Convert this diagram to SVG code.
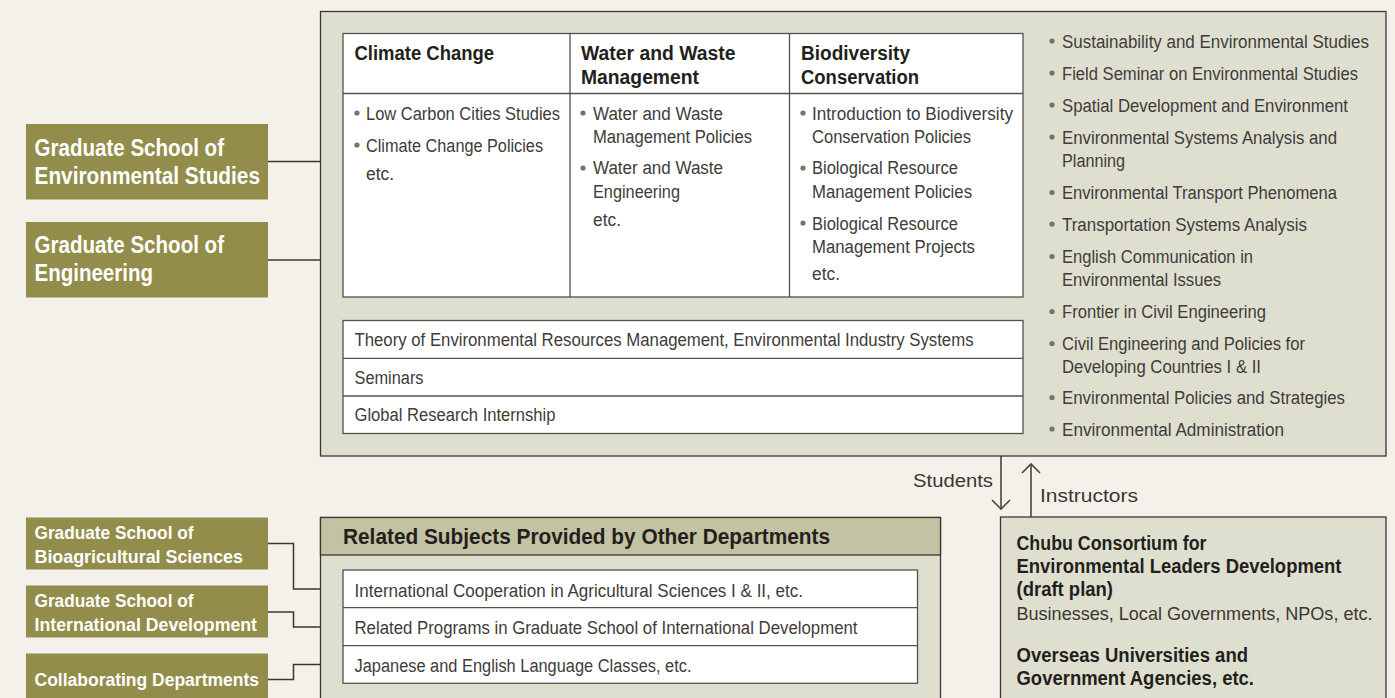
<svg xmlns="http://www.w3.org/2000/svg" width="1395" height="698" viewBox="0 0 1395 698">
<defs>
<style>
.bg{fill:#f4f1ea}
.panel{fill:#dfdfd0;stroke:#3b3632;stroke-width:1.3}
.band{fill:#c3c2a2;stroke:#3b3632;stroke-width:1.3}
.cell{fill:#ffffff;stroke:#55514d;stroke-width:1.3}
.grid{stroke:#55514d;stroke-width:1.3;fill:none}
.olive{fill:#938d4b}
.conn{stroke:#3b3632;stroke-width:1.5;fill:none}
.arr{stroke:#4a4541;stroke-width:1.6;fill:none}
.hd{font-family:"Liberation Sans",Arial,sans-serif;font-weight:bold;font-size:19.5px;fill:#231f1c}
.tx{font-family:"Liberation Sans",Arial,sans-serif;font-size:18px;fill:#403c39}
.wl{font-family:"Liberation Sans",Arial,sans-serif;font-weight:bold;font-size:23px;fill:#ffffff}
.ws{font-family:"Liberation Sans",Arial,sans-serif;font-weight:bold;font-size:18.5px;fill:#ffffff}
.ttl{font-family:"Liberation Sans",Arial,sans-serif;font-weight:bold;font-size:22px;fill:#231f1c}
.lbl{font-family:"Liberation Sans",Arial,sans-serif;font-size:18.5px;fill:#3a3633}
.bul{fill:#76736f}
</style>
</defs>
<rect class="bg" x="0" y="0" width="1395" height="698"/>

<g id="connectors">
<line class="conn" x1="268" y1="161.5" x2="320" y2="161.5"/>
<line class="conn" x1="268" y1="260" x2="320" y2="260"/>
<polyline class="conn" points="268,543.5 293.5,543.5 293.5,589 343,589"/>
<polyline class="conn" points="268,612 293.5,612 293.5,627 343,627"/>
<polyline class="conn" points="268,679.5 293.5,679.5 293.5,664.5 343,664.5"/>
<line class="arr" x1="1001" y1="456" x2="1001" y2="509"/>
<polyline class="arr" points="992,500 1001,509 1010,500"/>
<line class="arr" x1="1031" y1="517" x2="1031" y2="464"/>
<polyline class="arr" points="1022,473 1031,464 1040,473"/>
<text class="lbl" x="913" y="486.5" textLength="80" lengthAdjust="spacingAndGlyphs">Students</text>
<text class="lbl" x="1040" y="501.5" textLength="98" lengthAdjust="spacingAndGlyphs">Instructors</text>
</g>

<g id="main-program">
<rect class="panel" x="320.5" y="11.5" width="1065.5" height="444.5"/>
<g id="fields-table">
<rect class="cell" x="343" y="33.5" width="680" height="263.5"/>
<line class="grid" x1="343" y1="93.5" x2="1023" y2="93.5"/>
<line class="grid" x1="570" y1="33.5" x2="570" y2="297"/>
<line class="grid" x1="789.5" y1="33.5" x2="789.5" y2="297"/>
<text class="hd" x="354.5" y="60" textLength="139.5" lengthAdjust="spacingAndGlyphs">Climate Change</text>
<text class="hd" x="581" y="60" textLength="154.5" lengthAdjust="spacingAndGlyphs">Water and Waste</text>
<text class="hd" x="581" y="84" textLength="118" lengthAdjust="spacingAndGlyphs">Management</text>
<text class="hd" x="801" y="60" textLength="109" lengthAdjust="spacingAndGlyphs">Biodiversity</text>
<text class="hd" x="801" y="84" textLength="118" lengthAdjust="spacingAndGlyphs">Conservation</text>

<circle class="bul" cx="357" cy="113" r="2.6"/>
<text class="tx" x="366" y="119.5" textLength="194" lengthAdjust="spacingAndGlyphs">Low Carbon Cities Studies</text>
<circle class="bul" cx="357" cy="145" r="2.6"/>
<text class="tx" x="366" y="151.5" textLength="177" lengthAdjust="spacingAndGlyphs">Climate Change Policies</text>
<text class="tx" x="366" y="180" textLength="28" lengthAdjust="spacingAndGlyphs">etc.</text>

<circle class="bul" cx="583" cy="113" r="2.6"/>
<text class="tx" x="593" y="119.5" textLength="130" lengthAdjust="spacingAndGlyphs">Water and Waste</text>
<text class="tx" x="593" y="142.5" textLength="159" lengthAdjust="spacingAndGlyphs">Management Policies</text>
<circle class="bul" cx="583" cy="168" r="2.6"/>
<text class="tx" x="593" y="174" textLength="130" lengthAdjust="spacingAndGlyphs">Water and Waste</text>
<text class="tx" x="593" y="197.5" textLength="87" lengthAdjust="spacingAndGlyphs">Engineering</text>
<text class="tx" x="593" y="226" textLength="28" lengthAdjust="spacingAndGlyphs">etc.</text>

<circle class="bul" cx="803" cy="113" r="2.6"/>
<text class="tx" x="812" y="119.5" textLength="201" lengthAdjust="spacingAndGlyphs">Introduction to Biodiversity</text>
<text class="tx" x="812" y="142.5" textLength="159" lengthAdjust="spacingAndGlyphs">Conservation Policies</text>
<circle class="bul" cx="803" cy="168" r="2.6"/>
<text class="tx" x="812" y="174" textLength="146" lengthAdjust="spacingAndGlyphs">Biological Resource</text>
<text class="tx" x="812" y="197.5" textLength="160" lengthAdjust="spacingAndGlyphs">Management Policies</text>
<circle class="bul" cx="803" cy="223" r="2.6"/>
<text class="tx" x="812" y="229.5" textLength="146" lengthAdjust="spacingAndGlyphs">Biological Resource</text>
<text class="tx" x="812" y="252.5" textLength="163" lengthAdjust="spacingAndGlyphs">Management Projects</text>
<text class="tx" x="812" y="280" textLength="28" lengthAdjust="spacingAndGlyphs">etc.</text>
</g>
<g id="common-table">
<rect class="cell" x="343" y="320.5" width="680" height="113"/>
<line class="grid" x1="343" y1="358.3" x2="1023" y2="358.3"/>
<line class="grid" x1="343" y1="396" x2="1023" y2="396"/>
<text class="tx" x="354.5" y="346" textLength="619" lengthAdjust="spacingAndGlyphs">Theory of Environmental Resources Management, Environmental Industry Systems</text>
<text class="tx" x="354.5" y="383.5" textLength="69" lengthAdjust="spacingAndGlyphs">Seminars</text>
<text class="tx" x="354.5" y="420.5" textLength="201" lengthAdjust="spacingAndGlyphs">Global Research Internship</text>
</g>
<g id="subject-list">
<circle class="bul" cx="1052" cy="41" r="2.6"/>
<text class="tx" x="1062" y="47.5" textLength="307" lengthAdjust="spacingAndGlyphs">Sustainability and Environmental Studies</text>
<circle class="bul" cx="1052" cy="73" r="2.6"/>
<text class="tx" x="1062" y="79.5" textLength="296" lengthAdjust="spacingAndGlyphs">Field Seminar on Environmental Studies</text>
<circle class="bul" cx="1052" cy="105" r="2.6"/>
<text class="tx" x="1062" y="111.5" textLength="286" lengthAdjust="spacingAndGlyphs">Spatial Development and Environment</text>
<circle class="bul" cx="1052" cy="137" r="2.6"/>
<text class="tx" x="1062" y="143.5" textLength="275" lengthAdjust="spacingAndGlyphs">Environmental Systems Analysis and</text>
<text class="tx" x="1062" y="166.5" textLength="63" lengthAdjust="spacingAndGlyphs">Planning</text>
<circle class="bul" cx="1052" cy="192.5" r="2.6"/>
<text class="tx" x="1062" y="199" textLength="275" lengthAdjust="spacingAndGlyphs">Environmental Transport Phenomena</text>
<circle class="bul" cx="1052" cy="224" r="2.6"/>
<text class="tx" x="1062" y="230.5" textLength="245" lengthAdjust="spacingAndGlyphs">Transportation Systems Analysis</text>
<circle class="bul" cx="1052" cy="256.5" r="2.6"/>
<text class="tx" x="1062" y="263" textLength="191" lengthAdjust="spacingAndGlyphs">English Communication in</text>
<text class="tx" x="1062" y="286" textLength="159" lengthAdjust="spacingAndGlyphs">Environmental Issues</text>
<circle class="bul" cx="1052" cy="311.5" r="2.6"/>
<text class="tx" x="1062" y="318" textLength="204" lengthAdjust="spacingAndGlyphs">Frontier in Civil Engineering</text>
<circle class="bul" cx="1052" cy="343.5" r="2.6"/>
<text class="tx" x="1062" y="350" textLength="243" lengthAdjust="spacingAndGlyphs">Civil Engineering and Policies for</text>
<text class="tx" x="1062" y="372.5" textLength="199" lengthAdjust="spacingAndGlyphs">Developing Countries I &amp; II</text>
<circle class="bul" cx="1052" cy="397.5" r="2.6"/>
<text class="tx" x="1062" y="404" textLength="283" lengthAdjust="spacingAndGlyphs">Environmental Policies and Strategies</text>
<circle class="bul" cx="1052" cy="429" r="2.6"/>
<text class="tx" x="1062" y="435.5" textLength="222" lengthAdjust="spacingAndGlyphs">Environmental Administration</text>
</g>
</g>

<g id="gs-environmental-studies">
<rect class="olive" x="26" y="124" width="242" height="75.5"/>
<text class="wl" x="34.5" y="155.5" textLength="189.5" lengthAdjust="spacingAndGlyphs">Graduate School of</text>
<text class="wl" x="34.5" y="183.5" textLength="225.5" lengthAdjust="spacingAndGlyphs">Environmental Studies</text>
</g>
<g id="gs-engineering">
<rect class="olive" x="26" y="222" width="242" height="75.5"/>
<text class="wl" x="34.5" y="252.5" textLength="189.5" lengthAdjust="spacingAndGlyphs">Graduate School of</text>
<text class="wl" x="34.5" y="280.5" textLength="118.5" lengthAdjust="spacingAndGlyphs">Engineering</text>
</g>

<g id="gs-bioagricultural">
<rect class="olive" x="26" y="517.5" width="242" height="52"/>
<text class="ws" x="34.5" y="539" textLength="159" lengthAdjust="spacingAndGlyphs">Graduate School of</text>
<text class="ws" x="34.5" y="562.5" textLength="208.5" lengthAdjust="spacingAndGlyphs">Bioagricultural Sciences</text>
</g>
<g id="gs-international-development">
<rect class="olive" x="26" y="585.5" width="242" height="52"/>
<text class="ws" x="34.5" y="606.5" textLength="159" lengthAdjust="spacingAndGlyphs">Graduate School of</text>
<text class="ws" x="34.5" y="630.5" textLength="222.5" lengthAdjust="spacingAndGlyphs">International Development</text>
</g>
<g id="collaborating-departments">
<rect class="olive" x="26" y="653.5" width="242" height="52"/>
<text class="ws" x="34.5" y="686" textLength="224.5" lengthAdjust="spacingAndGlyphs">Collaborating Departments</text>
</g>

<g id="related-subjects">
<rect class="panel" x="320.5" y="517.5" width="620" height="200"/>
<rect class="band" x="320.5" y="517.5" width="620" height="37.5"/>
<text class="ttl" x="343" y="543.5" textLength="487" lengthAdjust="spacingAndGlyphs">Related Subjects Provided by Other Departments</text>
<rect class="cell" x="343" y="570" width="574.5" height="113.3"/>
<line class="grid" x1="343" y1="607.7" x2="917.5" y2="607.7"/>
<line class="grid" x1="343" y1="645.7" x2="917.5" y2="645.7"/>
<text class="tx" x="354.5" y="596.5" textLength="448.5" lengthAdjust="spacingAndGlyphs">International Cooperation in Agricultural Sciences I &amp; II, etc.</text>
<text class="tx" x="354.5" y="634.3" textLength="503" lengthAdjust="spacingAndGlyphs">Related Programs in Graduate School of International Development</text>
<text class="tx" x="354.5" y="671.7" textLength="337" lengthAdjust="spacingAndGlyphs">Japanese and English Language Classes, etc.</text>
</g>

<g id="chubu-consortium">
<rect class="panel" x="1000.5" y="517" width="385.5" height="200"/>
<text class="hd" x="1016.5" y="549.5" font-size="19" textLength="190" lengthAdjust="spacingAndGlyphs">Chubu Consortium for</text>
<text class="hd" x="1016.5" y="572.7" font-size="19" textLength="325" lengthAdjust="spacingAndGlyphs">Environmental Leaders Development</text>
<text class="hd" x="1016.5" y="596" font-size="19" textLength="96.5" lengthAdjust="spacingAndGlyphs">(draft plan)</text>
<text class="lbl" x="1016.5" y="620" textLength="356" lengthAdjust="spacingAndGlyphs">Businesses, Local Governments, NPOs, etc.</text>
<text class="hd" x="1016.5" y="661.7" font-size="19" textLength="231.5" lengthAdjust="spacingAndGlyphs">Overseas Universities and</text>
<text class="hd" x="1016.5" y="685" font-size="19" textLength="237.5" lengthAdjust="spacingAndGlyphs">Government Agencies, etc.</text>
</g>
</svg>
